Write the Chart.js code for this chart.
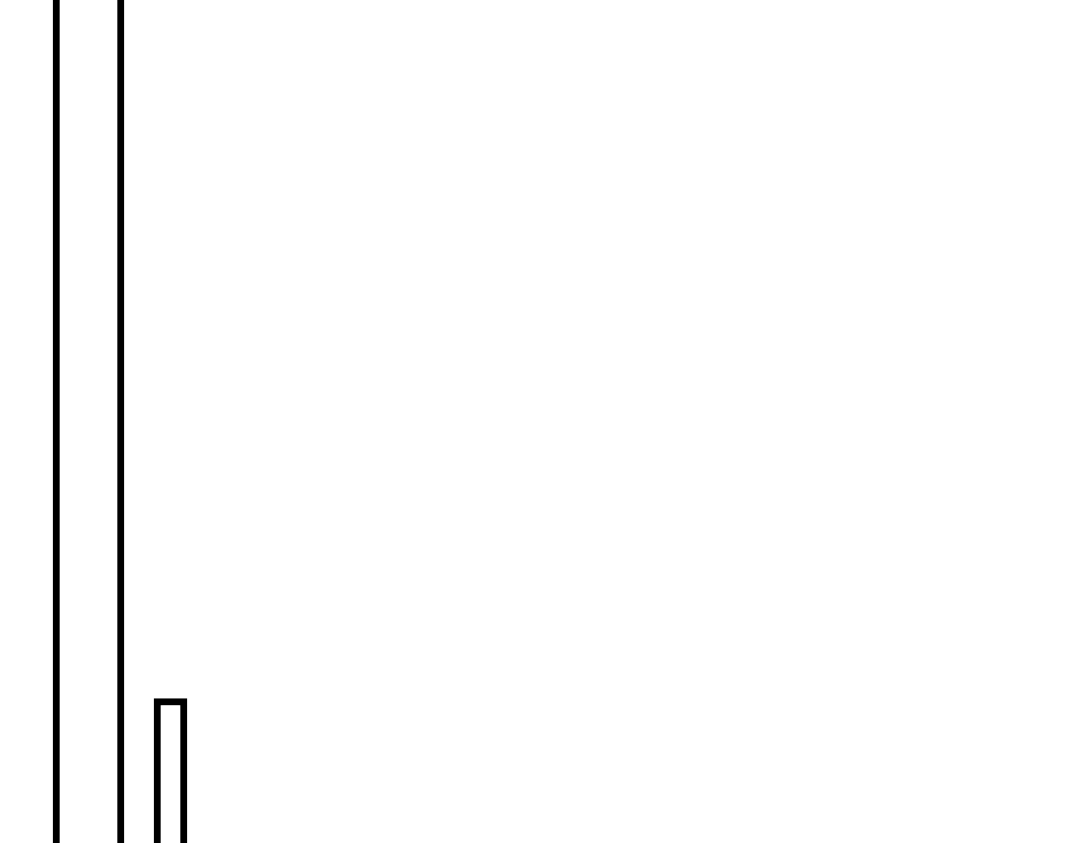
<!DOCTYPE html>
<html>
<head>
<meta charset="utf-8">
<script src="https://cdn.jsdelivr.net/npm/chart.js@4"></script>
<style>
  html, body { margin: 0; padding: 0; background: #fff; }
  #wrap { width: 1080px; height: 843px; position: relative; }
</style>
</head>
<body>
<div id="wrap"><canvas id="grafico"></canvas></div>
<script>
// dados (o primeiro passa do topo)
const categorias = ['A', 'B'];
const valoresAltos = [95, null];
const valoresBaixos = [null, 12];
const eixoMax = 70;

const ctx = document.getElementById('grafico').getContext('2d');
window.barChart = new Chart(ctx, {
  type: 'bar',
  data: {
    labels: categorias,
    datasets: [{
      data: valoresAltos,
      backgroundColor: '#ffffff',
      borderColor: '#000000',
      borderWidth: 7,
      barThickness: 71
    }, {
      data: valoresBaixos,
      backgroundColor: '#ffffff',
      borderColor: '#000000',
      borderWidth: 7,
      barThickness: 33
    }]
  },
  options: {
    responsive: true,
    maintainAspectRatio: false,
    animation: false,
    devicePixelRatio: 1,
    layout: {
      padding: { left: 47.5, right: 868.5, top: 0, bottom: 0 }
    },
    datasets: {
      bar: { grouped: false }
    },
    plugins: {
      legend: { display: false },
      title: { display: false },
      tooltip: { enabled: false }
    },
    scales: {
      x: { display: false, grid: { display: false } },
      y: { display: false, min: 0, max: eixoMax, grid: { display: false } }
    }
  }
});
</script>
</body>
</html>
